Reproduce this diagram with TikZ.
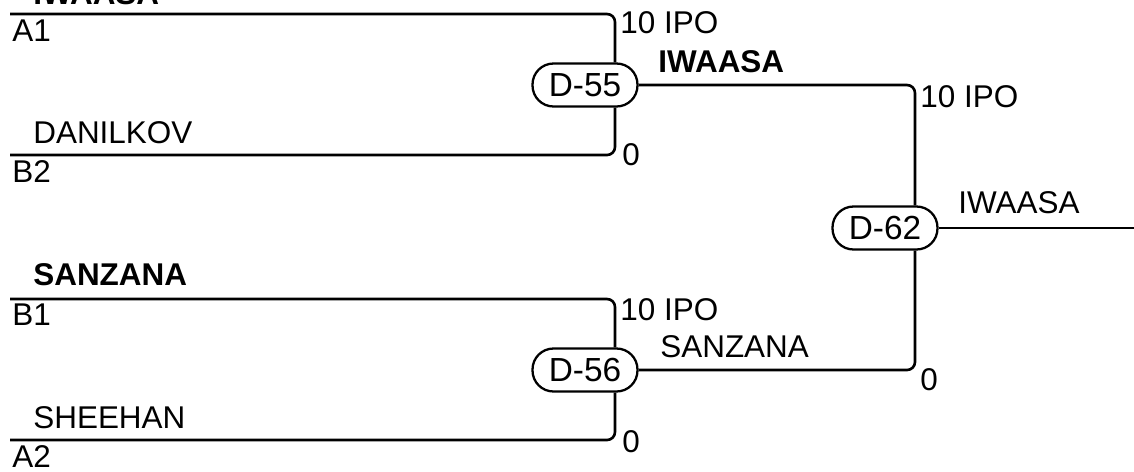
\documentclass[tikz,border=0pt]{standalone}
\usepackage{fontspec}
\setmainfont{Liberation Sans}
\usetikzlibrary{positioning,calc}
\tikzset{
  wire/.style={draw=black,line width=1.5pt,rounded corners=0.16cm},
  match/.style={draw=black,line width=1.3pt,fill=white,rounded corners=0.42cm,
    minimum width=2.1cm,minimum height=0.86cm,inner sep=0pt,
    font=\fontsize{19}{21}\selectfont},
  lbl/.style={anchor=base west,inner sep=0pt,font=\fontsize{17.9}{20}\selectfont},
  win/.style={lbl,font=\fontsize{17.9}{20}\selectfont\bfseries},
}

\begin{document}
\begin{tikzpicture}[x=0.02cm,y=-0.02cm]
  \useasboundingbox (0,0) rectangle (1134,471);
  % matches
  \node[match] (d55) at (585,85) {D-55};
  \node[match] (d56) at (585,370) {D-56};
  \node[match] (d62) at (885,228) {D-62};
  \coordinate (j55) at (615,0);
  \coordinate (j62) at (915,0);
  \coordinate (out) at (1134,228);
  % first round
  \foreach \s/\y/\m/\side in {a1/14/d55/north, b2/155/d55/south,
      b1/299/d56/north, a2/440/d56/south}
    \draw[wire] (10,\y) coordinate (\s) -| (\m.\side -| j55);
  % final
  \draw[wire] (d55.east) -| (d62.north -| j62);
  \draw[wire] (d56.east) -| (d62.south -| j62);
  \draw[wire] (d62.east) -- (out);
  % players
  \node[win] (w1) at (33,4) {IWAASA};
  \node[lbl] (s1) at (12,41) {A1};
  \node[lbl] (p2) at (33,143) {DANILKOV};
  \node[lbl] (s2) at (12,182) {B2};
  \node[win] (w3) at (33,285) {SANZANA};
  \node[lbl] (s3) at (12,325) {B1};
  \node[lbl] (p4) at (33,428) {SHEEHAN};
  \node[lbl] (s4) at (12,467) {A2};
  % scores
  \node[lbl] (r1) at (620,33) {10 IPO};
  \node[lbl] (r2) at (622,165) {0};
  \node[lbl] (r3) at (620,320) {10 IPO};
  \node[lbl] (r4) at (622,452) {0};
  \node[lbl] (r5) at (920,107) {10 IPO};
  \node[lbl] (r6) at (920,390) {0};
  % winners
  \node[win] (w55) at (658,72) {IWAASA};
  \node[lbl] (w56) at (660,357) {SANZANA};
  \node[lbl] (w62) at (958,213) {IWAASA};
\end{tikzpicture}
\end{document}
